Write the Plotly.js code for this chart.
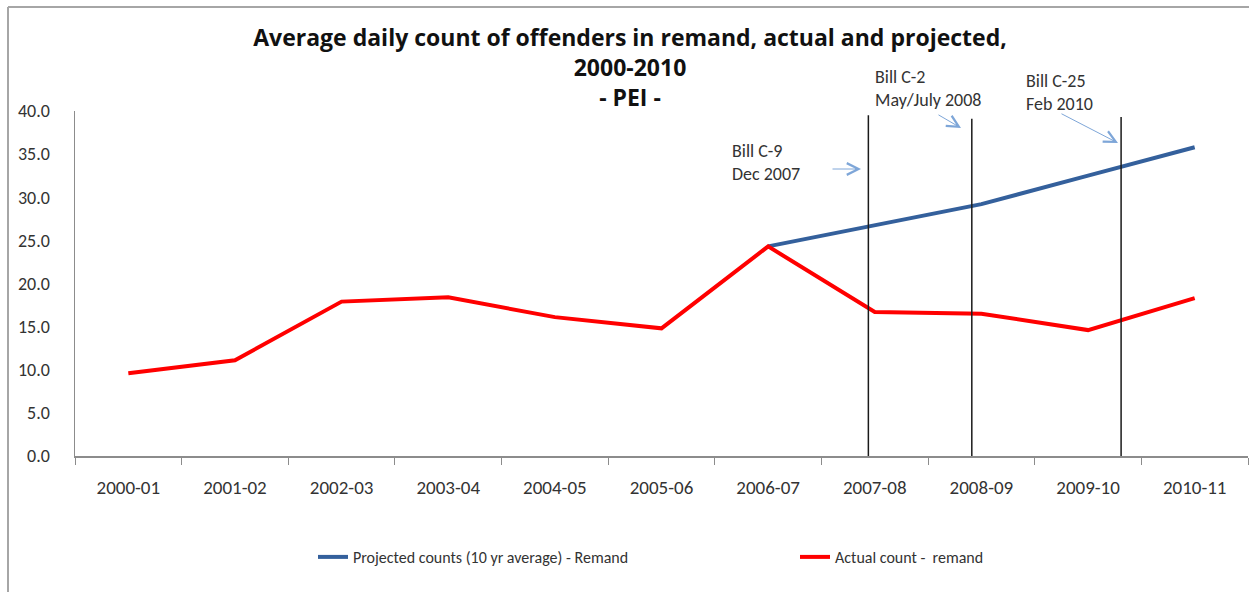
<!DOCTYPE html>
<html>
<head>
<meta charset="utf-8">
<script src="https://cdn.plot.ly/plotly-3.0.1.min.js"></script>
<style>html,body{margin:0;padding:0;background:#fff;}#chart{width:1249px;height:592px;}</style>
</head>
<body>
<div id="chart"></div>
<script>
// ---- data ----
var categories = ["2000-01","2001-02","2002-03","2003-04","2004-05","2005-06","2006-07","2007-08","2008-09","2009-10","2010-11"];
var projectedCounts = [null,null,null,null,null,null,24.3,26.7,29.2,32.5,35.8];
var actualCounts = [9.6,11.1,17.9,18.4,16.1,14.8,24.3,16.7,16.5,14.6,18.3];
var seriesNames = ["Projected counts (10 yr average) - Remand","Actual count -  remand"];
var yTickValues = [0,5,10,15,20,25,30,35,40];
var billLabels = ["Bill C-9<br>Dec 2007","Bill C-2<br>May/July 2008","Bill C-25<br>Feb 2010"];
var billEventIndex = [6.94, 7.91, 9.31];   // position of each bill on the category axis
var billLineTop = [39.5, 39.1, 39.3];

// ---- layout helpers ----
var W = 1249, H = 592;
var M = {l:75, r:1, t:111, b:136};
var PW = W - M.l - M.r, PH = H - M.t - M.b;
function px(x){ return (x - M.l) / PW; }
function py(y){ return (H - M.b - y) / PH; }

var FONT = "Carlito, Lato, 'Open Sans', sans-serif";
var TXT = "#333333";

var traces = [
  {x: categories, y: projectedCounts, name: seriesNames[0], type: "scatter", mode: "lines",
   line: {color: "#34609c", width: 4}, connectgaps: false, legend: "legend"},
  {x: categories, y: actualCounts, name: seriesNames[1], type: "scatter", mode: "lines",
   line: {color: "#ff0000", width: 4}, legend: "legend2"}
];

var shapes = [];
for (var i = 0; i < billEventIndex.length; i++) {
  shapes.push({type: "line", xref: "x", yref: "y", x0: billEventIndex[i], x1: billEventIndex[i],
    y0: 0, y1: billLineTop[i], line: {color: "#1a1a1a", width: 1.5}});
}
// outer chart frame (top and left edges)
shapes.push({type: "line", xref: "paper", yref: "paper", x0: px(8), x1: px(1260), y0: py(7), y1: py(7),
  line: {color: "#a6a6a6", width: 2}});
shapes.push({type: "line", xref: "paper", yref: "paper", x0: px(8), x1: px(8), y0: py(7), y1: py(600),
  line: {color: "#a6a6a6", width: 2}});

var textPos = [[730, 138], [873, 64], [1024, 68]];
var arrows = [[861, 169, -30, 0], [961, 128, -24, -14], [1118, 143, -58, -30]];
var annotations = [];
for (var j = 0; j < billLabels.length; j++) {
  annotations.push({text: billLabels[j], xref: "paper", yref: "paper",
    x: px(textPos[j][0]), y: py(textPos[j][1]), xanchor: "left", yanchor: "top", align: "left",
    showarrow: false, font: {family: FONT, size: 18, color: TXT}});
  annotations.push({text: "", xref: "paper", yref: "paper", x: px(arrows[j][0]), y: py(arrows[j][1]),
    ax: arrows[j][2], ay: arrows[j][3], showarrow: true, arrowhead: 5, arrowsize: 2.3, arrowwidth: 1,
    arrowcolor: "#7ea6d8", standoff: 0});
}

var legendCommon = {orientation: "h", xanchor: "left", yanchor: "middle",
  font: {family: FONT, size: 16, color: TXT}, bgcolor: "rgba(0,0,0,0)", itemwidth: 30};

var layout = {
  width: W, height: H,
  margin: M,
  paper_bgcolor: "#ffffff", plot_bgcolor: "#ffffff",
  font: {family: FONT, size: 18, color: TXT},
  title: {text: "<b>Average daily count of offenders in remand, actual and projected,<br>2000-2010<br>- PEI -</b>",
    xref: "container", yref: "container", x: 630/W, xanchor: "center", y: 1 - 46/H, yanchor: "top",
    font: {family: "'Open Sans', sans-serif", size: 23, color: "#111111"}},
  xaxis: {type: "category", range: [-0.5, 10.5], showgrid: false, zeroline: false,
    showline: true, linecolor: "#8c8c8c", linewidth: 1.5,
    ticks: "outside", ticklen: 7, tickcolor: "#8c8c8c", tickwidth: 1, tickson: "boundaries",
    ticklabelstandoff: 14, tickfont: {family: FONT, size: 19, color: TXT}, fixedrange: true},
  yaxis: {range: [0, 40], tickvals: yTickValues, tickformat: ".1f", showgrid: false, zeroline: false,
    showline: true, linecolor: "#8c8c8c", linewidth: 1.5, ticks: "",
    ticklabelstandoff: 20, tickfont: {family: FONT, size: 18, color: TXT}, fixedrange: true},
  showlegend: true,
  legend: Object.assign({x: px(313), y: py(557)}, legendCommon),
  legend2: Object.assign({x: px(795), y: py(557)}, legendCommon),
  shapes: shapes,
  annotations: annotations
};

Plotly.newPlot("chart", traces, layout, {displayModeBar: false, staticPlot: true});
</script>
</body>
</html>
